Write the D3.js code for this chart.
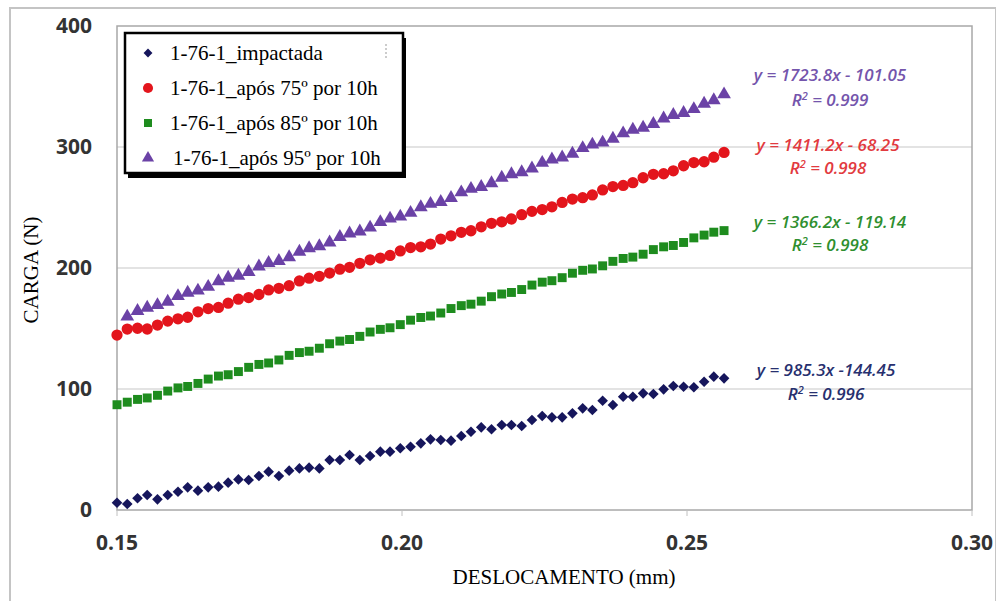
<!DOCTYPE html>
<html>
<head>
<meta charset="utf-8">
<script src="https://cdn.jsdelivr.net/npm/d3@7"></script>
<style>
  body { margin: 0; background: #fff; }
  svg { display: block; }
  .tick-label { font-family: "Open Sans", sans-serif; font-weight: 700; font-size: 21px; fill: #333; }
  .axis-title { font-family: "Liberation Serif", "Times New Roman", serif; font-size: 21px; fill: #000; }
  .legend-text { font-family: "Liberation Serif", "Times New Roman", serif; font-size: 21px; fill: #000; }
  .eq { font-family: "Open Sans", sans-serif; font-style: italic; font-weight: 600; font-size: 17px; }
</style>
</head>
<body>
<svg id="chart" width="996" height="601"></svg>
<script>
// deslocamento (mm), shared by the series
const displacement = [
  0.1500, 0.1518, 0.1536, 0.1553, 0.1571, 0.1589, 0.1607, 0.1624, 0.1642, 0.1660,
  0.1678, 0.1695, 0.1713, 0.1731, 0.1749, 0.1766, 0.1784, 0.1802, 0.1820, 0.1837,
  0.1855, 0.1873, 0.1891, 0.1908, 0.1926, 0.1944, 0.1962, 0.1979, 0.1997, 0.2015,
  0.2033, 0.2050, 0.2068, 0.2086, 0.2104, 0.2121, 0.2139, 0.2157, 0.2175, 0.2192,
  0.2210, 0.2228, 0.2246, 0.2263, 0.2281, 0.2299, 0.2317, 0.2334, 0.2352, 0.2370,
  0.2388, 0.2405, 0.2423, 0.2441, 0.2459, 0.2476, 0.2494, 0.2512, 0.2530, 0.2547,
  0.2565
];

// carga (N)
const impactada = [
  6.0, 5.0, 9.7, 12.4, 8.8, 12.4, 15.1, 18.7, 16.0, 18.7,
  19.3, 22.6, 25.3, 24.8, 28.1, 31.7, 28.1, 32.5, 34.4, 35.0,
  34.4, 41.3, 41.3, 45.5, 41.3, 44.6, 48.2, 48.2, 51.0, 52.3,
  55.1, 58.4, 57.9, 57.3, 61.2, 64.7, 68.3, 66.7, 70.2, 70.2,
  69.4, 74.4, 77.7, 76.6, 76.6, 79.9, 84.0, 82.6, 90.3, 86.8,
  93.6, 93.6, 96.4, 95.9, 99.7, 102.5, 101.9, 101.4, 106.0, 110.2,
  108.8
];
const apos75 = [
  144.6, 149.5, 150.2, 149.6, 152.8, 156.1, 158.0, 159.3, 163.8, 166.5,
  167.4, 170.9, 174.2, 175.6, 178.1, 181.9, 183.2, 185.4, 189.3, 191.6,
  193.1, 195.8, 199.0, 200.6, 203.9, 206.8, 208.2, 210.4, 214.1, 216.9,
  217.5, 219.8, 223.9, 226.6, 229.5, 230.8, 234.0, 236.9, 238.2, 240.5,
  244.1, 246.8, 248.3, 250.6, 254.2, 257.0, 258.1, 260.4, 264.5, 267.3,
  268.2, 270.5, 274.6, 277.4, 277.9, 280.3, 284.5, 287.1, 287.8, 291.6,
  295.5
];
const apos85 = [
  87.0, 89.1, 91.4, 92.6, 94.8, 98.3, 100.9, 102.1, 104.6, 108.2,
  110.7, 111.8, 114.4, 117.9, 120.3, 121.5, 124.0, 127.8, 130.1, 131.2,
  133.7, 137.4, 139.6, 140.9, 143.5, 147.1, 149.3, 150.6, 153.2, 156.9,
  159.1, 160.3, 162.8, 166.5, 168.9, 170.1, 172.6, 176.3, 178.5, 179.8,
  182.2, 185.9, 188.3, 189.5, 192.0, 195.7, 198.1, 199.2, 201.8, 205.5,
  207.9, 209.0, 211.4, 215.2, 217.5, 218.6, 221.1, 224.9, 227.2, 229.6,
  230.9
];
// starts one reading later than the others
const apos95 = [
  159.8, 164.5, 167.2, 169.3, 172.1, 176.8, 179.6, 181.3, 184.4,
  189.0, 191.9, 193.6, 196.7, 201.2, 204.1, 205.8, 208.9, 213.5, 216.4,
  218.0, 221.1, 225.7, 228.5, 230.2, 233.4, 237.9, 240.8, 242.5, 245.6,
  250.2, 253.0, 254.6, 257.8, 262.5, 265.4, 266.9, 270.1, 274.6, 277.5,
  279.2, 282.3, 286.9, 289.7, 291.4, 294.5, 299.1, 302.0, 303.6, 306.8,
  311.3, 314.2, 315.9, 319.0, 323.6, 326.4, 328.1, 331.3, 335.8, 338.6,
  343.5
];

const seriesNames = ["1-76-1_impactada", "1-76-1_após 75º por 10h", "1-76-1_após 85º por 10h", "1-76-1_após 95º por 10h"];
const equations = ["y = 985.3x -144.45", "y = 1411.2x - 68.25", "y = 1366.2x - 119.14", "y = 1723.8x - 101.05"];
const rSquared = ["0.996", "0.998", "0.998", "0.999"];
const xTicks = [0.15, 0.20, 0.25, 0.30];
const yTicks = [0, 100, 200, 300, 400];

const svg = d3.select("#chart");
const W = +svg.attr("width"), H = +svg.attr("height");
const plot = { left: 117, right: 972, top: 26, bottom: 510 };

const x = d3.scaleLinear().domain([0.15, 0.30]).range([plot.left, plot.right]);
const y = d3.scaleLinear().domain([0, 400]).range([plot.bottom, plot.top]);

// outer frame of the pasted chart
svg.append("rect")
    .attr("x", 10).attr("y", 8)
    .attr("width", W - 10).attr("height", H)
    .attr("fill", "none").attr("stroke", "#c4c4c4").attr("stroke-width", 2);

// gridlines
svg.selectAll(".grid")
    .data(yTicks.slice(1, -1))
    .enter().append("line")
    .attr("x1", plot.left).attr("x2", plot.right)
    .attr("y1", d => y(d)).attr("y2", d => y(d))
    .attr("stroke", "#c8c8c8").attr("stroke-width", 1.2);

// plot frame
svg.append("rect")
    .attr("x", plot.left).attr("y", plot.top)
    .attr("width", plot.right - plot.left).attr("height", plot.bottom - plot.top)
    .attr("fill", "none").attr("stroke", "#a8a8a8").attr("stroke-width", 1.5);

// small ticks under the x axis
svg.selectAll(".xtick")
    .data(xTicks)
    .enter().append("line")
    .attr("x1", d => x(d)).attr("x2", d => x(d))
    .attr("y1", plot.bottom).attr("y2", plot.bottom + 6)
    .attr("stroke", "#c0c0c0");

svg.selectAll(".ylab")
    .data(yTicks)
    .enter().append("text")
    .attr("class", "tick-label")
    .attr("x", 92).attr("y", d => y(d))
    .attr("dy", "0.35em")
    .attr("text-anchor", "end")
    .text(d => d);

svg.selectAll(".xlab")
    .data(xTicks)
    .enter().append("text")
    .attr("class", "tick-label")
    .attr("x", d => x(d)).attr("y", 543)
    .attr("dy", "0.35em")
    .attr("text-anchor", "middle")
    .text(d => d.toFixed(2));

svg.append("text")
    .attr("class", "axis-title")
    .attr("x", 564).attr("y", 584)
    .attr("text-anchor", "middle")
    .text("DESLOCAMENTO (mm)");

svg.append("text")
    .attr("class", "axis-title")
    .attr("transform", "translate(38,270) rotate(-90)")
    .attr("text-anchor", "middle")
    .text("CARGA (N)");

// series
const colors = ["#16165c", "#e3151c", "#1e8c1e", "#6b42a6"];
const eqColors = ["#27306f", "#e23a40", "#2f8f2f", "#7455ac"];
const symbols = [
    d3.symbol().type(d3.symbolDiamond2).size(72),
    d3.symbol().type(d3.symbolCircle).size(100),
    d3.symbol().type(d3.symbolSquare).size(80),
    d3.symbol().type(d3.symbolTriangle).size(82)
];
const data = [
    impactada.map((v, i) => [displacement[i], v]),
    apos75.map((v, i) => [displacement[i], v]),
    apos85.map((v, i) => [displacement[i], v]),
    apos95.map((v, i) => [displacement[i + 1], v])
];

data.forEach((pts, k) => {
    svg.append("g").selectAll("path")
        .data(pts)
        .enter().append("path")
        .attr("transform", d => `translate(${x(d[0])},${y(d[1])})`)
        .attr("d", symbols[k]())
        .attr("fill", colors[k]);
});

// trendline equations
const eqPos = [
    { cx: 826, y1: 376, y2: 400 },
    { cx: 828, y1: 151, y2: 174 },
    { cx: 830, y1: 228, y2: 251 },
    { cx: 830, y1: 81, y2: 106 }
];
eqPos.forEach((p, k) => {
    svg.append("text").attr("class", "eq")
        .attr("x", p.cx).attr("y", p.y1)
        .attr("text-anchor", "middle")
        .attr("fill", eqColors[k])
        .text(equations[k]);
    const r = svg.append("text").attr("class", "eq")
        .attr("x", p.cx).attr("y", p.y2)
        .attr("text-anchor", "middle")
        .attr("fill", eqColors[k]);
    r.append("tspan").text("R");
    r.append("tspan").attr("dy", -6).attr("font-size", 11).text("2");
    r.append("tspan").attr("dy", 6).text(" = " + rSquared[k]);
});

// legend
const lg = svg.append("g");
const box = { x: 125, y: 33, w: 278, h: 140 };
lg.append("rect")
    .attr("x", box.x + 3).attr("y", box.y + 5)
    .attr("width", box.w).attr("height", box.h)
    .attr("fill", "#000");
lg.append("rect")
    .attr("x", box.x).attr("y", box.y)
    .attr("width", box.w).attr("height", box.h)
    .attr("fill", "#fff").attr("stroke", "#000").attr("stroke-width", 2.5);
lg.append("line")
    .attr("x1", 386).attr("x2", 386).attr("y1", 44).attr("y2", 60)
    .attr("stroke", "#999").attr("stroke-dasharray", "2,2");

const rowY = [53, 88, 123, 158];
const legendSymbols = [
    d3.symbol().type(d3.symbolDiamond2).size(50),
    d3.symbol().type(d3.symbolCircle).size(80),
    d3.symbol().type(d3.symbolSquare).size(64),
    d3.symbol().type(d3.symbolTriangle).size(64)
];
seriesNames.forEach((name, k) => {
    lg.append("path")
        .attr("transform", `translate(148,${rowY[k]})`)
        .attr("d", legendSymbols[k]())
        .attr("fill", colors[k]);
    lg.append("text")
        .attr("class", "legend-text")
        .attr("x", k === 3 ? 173 : 170).attr("y", rowY[k])
        .attr("dy", "0.33em")
        .text(name);
});
</script>
</body>
</html>
